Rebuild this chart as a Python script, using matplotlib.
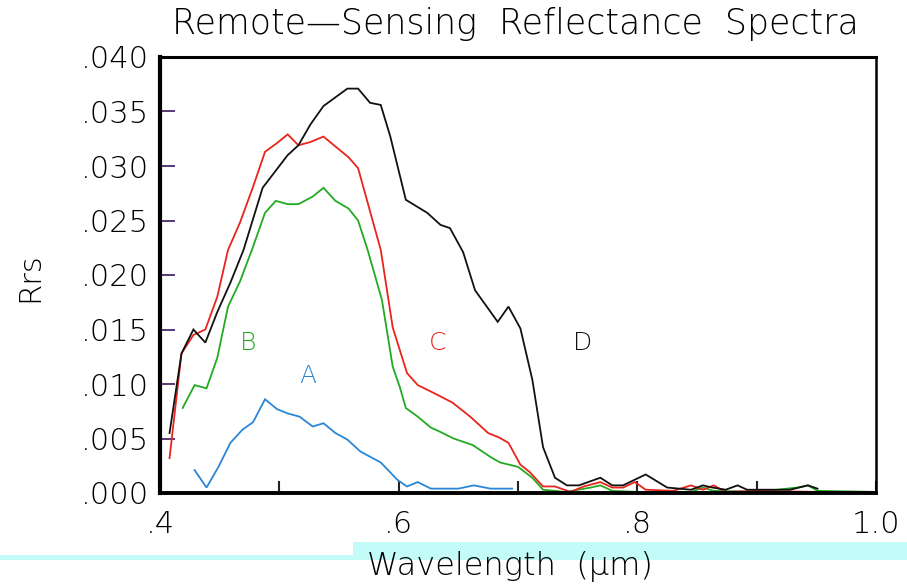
import matplotlib
matplotlib.use("Agg")
import matplotlib.pyplot as plt
from matplotlib.patches import Rectangle

# ---- data ----
wl_A = [0.429, 0.439, 0.449, 0.459, 0.469, 0.478, 0.488, 0.498, 0.507, 0.517, 0.528, 0.537,
        0.547, 0.557, 0.568, 0.585, 0.599, 0.607, 0.616, 0.627, 0.650, 0.663, 0.677, 0.695]
rrs_A = [0.0021, 0.0005, 0.0024, 0.0046, 0.0058, 0.0065, 0.0086, 0.0077, 0.0073, 0.0070, 0.0061, 0.0064,
         0.0055, 0.0049, 0.0038, 0.0028, 0.0012, 0.0006, 0.0010, 0.0004, 0.0004, 0.0007, 0.0004, 0.0004]

wl_B = [0.419, 0.429, 0.439, 0.448, 0.457, 0.467, 0.477, 0.488, 0.497, 0.507, 0.516, 0.528, 0.537,
        0.547, 0.558, 0.566, 0.574, 0.586, 0.595, 0.601, 0.606, 0.616, 0.627, 0.635, 0.646, 0.662,
        0.677, 0.685, 0.700, 0.712, 0.721, 0.740, 0.761, 0.769, 0.779, 0.800, 0.845, 0.855, 0.864,
        0.900, 0.934, 0.943, 0.951, 1.0]
rrs_B = [0.0078, 0.0099, 0.0096, 0.0124, 0.0171, 0.0194, 0.0223, 0.0257, 0.0268, 0.0265, 0.0265, 0.0272, 0.0280,
         0.0268, 0.0261, 0.0250, 0.0223, 0.0177, 0.0116, 0.0097, 0.0078, 0.0070, 0.0060, 0.0056, 0.0050, 0.0044,
         0.0033, 0.0028, 0.0024, 0.0014, 0.0003, 0.0001, 0.0005, 0.0007, 0.0002, 0.0001, 0.0001, 0.0005, 0.0002,
         0.0001, 0.0005, 0.0007, 0.0002, 0.0001]

wl_C = [0.408, 0.418, 0.428, 0.438, 0.448, 0.457, 0.467, 0.478, 0.488, 0.498, 0.507, 0.516, 0.526,
        0.537, 0.548, 0.558, 0.566, 0.585, 0.595, 0.607, 0.616, 0.629, 0.645, 0.660, 0.675, 0.684,
        0.692, 0.702, 0.710, 0.721, 0.731, 0.744, 0.755, 0.769, 0.779, 0.788, 0.798, 0.807, 0.830,
        0.845, 0.855, 0.864, 0.874, 0.900, 0.950, 1.0]
rrs_C = [0.0032, 0.0128, 0.0145, 0.0150, 0.0180, 0.0223, 0.0248, 0.0281, 0.0313, 0.0321, 0.0329, 0.0319, 0.0322,
         0.0327, 0.0317, 0.0308, 0.0298, 0.0223, 0.0152, 0.0110, 0.0099, 0.0092, 0.0083, 0.0070, 0.0055, 0.0051,
         0.0046, 0.0026, 0.0019, 0.0006, 0.0006, 0.0001, 0.0006, 0.0010, 0.0005, 0.0005, 0.0010, 0.0003, 0.0002,
         0.0007, 0.0003, 0.0007, 0.0001, 0.0002, 0.0001, 0.0001]

wl_D = [0.408, 0.418, 0.428, 0.438, 0.448, 0.459, 0.470, 0.486, 0.507, 0.516, 0.526, 0.537, 0.547,
        0.557, 0.566, 0.576, 0.585, 0.593, 0.606, 0.624, 0.635, 0.643, 0.654, 0.664, 0.683, 0.692,
        0.702, 0.712, 0.721, 0.731, 0.741, 0.751, 0.769, 0.779, 0.788, 0.807, 0.825, 0.845, 0.855,
        0.863, 0.874, 0.884, 0.892, 0.928, 0.943, 0.951]
rrs_D = [0.0055, 0.0128, 0.0150, 0.0138, 0.0166, 0.0193, 0.0223, 0.0280, 0.0310, 0.0319, 0.0338, 0.0355, 0.0363,
         0.0371, 0.0371, 0.0358, 0.0356, 0.0327, 0.0269, 0.0257, 0.0246, 0.0243, 0.0221, 0.0186, 0.0157, 0.0171,
         0.0151, 0.0104, 0.0042, 0.0014, 0.0007, 0.0007, 0.0014, 0.0007, 0.0007, 0.0017, 0.0005, 0.0003, 0.0007,
         0.0005, 0.0003, 0.0007, 0.0003, 0.0003, 0.0007, 0.0004]

series_labels = ["A", "B", "C", "D"]
label_pos_x = [0.524, 0.474, 0.633, 0.754]
label_pos_y = [0.0107, 0.0138, 0.0138, 0.0138]
colors = ["#2a86d6", "#22aa22", "#e8241c", "#111111"]

x_ticks = [0.4, 0.5, 0.6, 0.7, 0.8, 0.9, 1.0]
x_ticklabels = [".4", "", ".6", "", ".8", "", "1.0"]
y_ticks = [0.000, 0.005, 0.010, 0.015, 0.020, 0.025, 0.030, 0.035, 0.040]
y_ticklabels = [".000", ".005", ".010", ".015", ".020", ".025", ".030", ".035", ".040"]

# ---- figure ----
plt.rcParams['font.family'] = ['DejaVu Sans']
plt.rcParams['font.weight'] = 'light'
fig = plt.figure(figsize=(9.07, 5.87), dpi=100)
W, H = 907, 587

# cyan scanner bands
fig.add_artist(Rectangle((353 / W, 1 - 560 / H), (W - 353) / W, 18 / H,
                         transform=fig.transFigure, color="#c2fbf8", lw=0, zorder=0))
fig.add_artist(Rectangle((0, 1 - 560 / H), 353 / W, 5 / H,
                         transform=fig.transFigure, color="#c2fbf8", lw=0, zorder=0))

ax = fig.add_axes([160 / W, 1 - 493 / H, (876 - 160) / W, (493 - 57) / H])
ax.set_facecolor("none")

series = [(wl_A, rrs_A), (wl_B, rrs_B), (wl_C, rrs_C), (wl_D, rrs_D)]
for (wl, rr), c in zip(series, colors):
    ax.plot(wl, rr, color=c, lw=1.3, solid_joinstyle="miter")
for lab, lx, ly, c in zip(series_labels, label_pos_x, label_pos_y, colors):
    ax.text(lx, ly, lab, color=c, fontsize=18, ha="center", va="center")

ax.set_xlim(0.4, 1.0)
ax.set_ylim(0.0, 0.040)
ax.set_xticks(x_ticks)
ax.set_xticklabels(x_ticklabels)
ax.set_yticks(y_ticks)
ax.set_yticklabels(y_ticklabels)
ax.tick_params(axis="x", direction="in", length=9, width=1.5, pad=12, labelsize=22, color="#222222")
ax.tick_params(axis="y", direction="in", length=11, width=1.3, pad=8, labelsize=22, color="#4a2a6a")

for side, lw in [("left", 3.0), ("bottom", 2.8), ("top", 2.2), ("right", 1.8)]:
    ax.spines[side].set_linewidth(lw)
    ax.spines[side].set_color("black")

fig.text(515 / W, 1 - 24 / H, "Remote\u2014Sensing  Reflectance  Spectra", ha="center", va="center",
         fontsize=25)
fig.text(30 / W, 1 - 277 / H, "Rrs", rotation=90, ha="center", va="center", fontsize=22)
fig.text(510 / W, 1 - 566 / H, "Wavelength  (\u03bcm)", ha="center", va="center", fontsize=23)

fig.savefig("out.png", dpi=100)
